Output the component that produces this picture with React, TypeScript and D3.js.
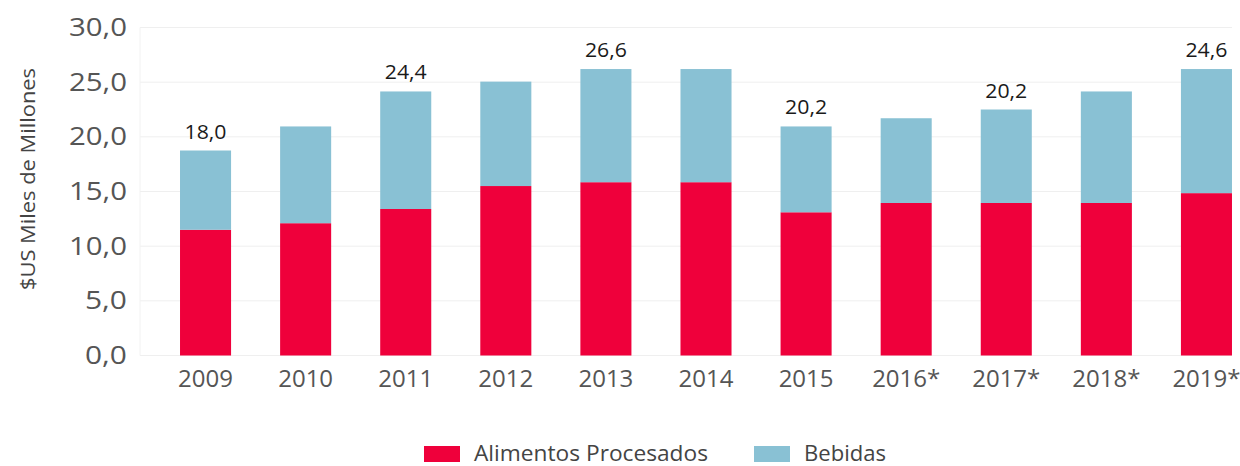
import React from "react";
import * as d3 from "d3";

const years = ["2009", "2010", "2011", "2012", "2013", "2014", "2015", "2016*", "2017*", "2018*", "2019*"];
const alimentos = [11.5, 12.1, 13.4, 15.5, 15.85, 15.85, 13.1, 13.95, 13.95, 13.95, 14.85];
const bebidas = [7.25, 8.85, 10.75, 9.55, 10.35, 10.35, 7.85, 7.75, 8.55, 10.2, 11.35];
const totalLabels = ["18,0", "", "24,4", "", "26,6", "", "20,2", "", "20,2", "", "24,6"];
const yTicks = [0, 5, 10, 15, 20, 25, 30];
const seriesNames = ["Alimentos Procesados", "Bebidas"];
const seriesColors = ["#EF003B", "#89C1D4"];

const W = 1240;
const H = 466;
const FONT = "'Open Sans', 'Noto Sans', sans-serif";

export default function App() {
  const x = d3
    .scaleBand<string>()
    .domain(years)
    .range([140, 1240])
    .paddingInner(0.49)
    .paddingOuter(0.24)
    .align(0.833);
  const y = d3.scaleLinear().domain([0, 30]).range([355.5, 27.5]);

  const rows = years.map((yr, i) => ({ year: yr, a: alimentos[i], b: bebidas[i] }));
  const stack = d3.stack<any>().keys(["a", "b"]);
  const layers = stack(rows);
  const fmt = (v: number) => d3.format(".1f")(v).replace(".", ",");

  return (
    <svg width={W} height={H} style={{ position: "absolute", left: 0, top: 0, background: "#fff" }}>
      {yTicks.map((t) => (
        <line key={"g" + t} x1={140} x2={1232} y1={y(t)} y2={y(t)} stroke="#EFEFEF" strokeWidth={1} />
      ))}
      <line x1={140} x2={140} y1={y(30)} y2={y(0)} stroke="#F2F2F2" strokeWidth={1} />
      {yTicks.map((t) => (
        <text
          key={"t" + t}
          x={127}
          y={y(t)}
          dy="0.33em"
          textAnchor="end"
          fontFamily={FONT}
          fontSize={25.5}
          textLength={t < 10 ? 42 : 58}
          lengthAdjust="spacingAndGlyphs"
          fill="#555"
        >
          {fmt(t)}
        </text>
      ))}
      {layers.map((layer, li) => (
        <g key={"l" + li} fill={seriesColors[li]}>
          {layer.map((d, i) => (
            <rect
              key={i}
              x={x(years[i])}
              width={x.bandwidth()}
              y={y(d[1])}
              height={y(d[0]) - y(d[1])}
            />
          ))}
        </g>
      ))}
      {years.map((yr, i) =>
        totalLabels[i] ? (
          <text
            key={"v" + i}
            x={(x(yr) as number) + x.bandwidth() / 2}
            y={y(alimentos[i] + bebidas[i]) - 12}
            textAnchor="middle"
            fontFamily={FONT}
            fontSize={20}
            textLength={42}
            lengthAdjust="spacingAndGlyphs"
            fill="#1a1a1a"
          >
            {totalLabels[i]}
          </text>
        ) : null
      )}
      {years.map((yr) => (
        <text
          key={"x" + yr}
          x={(x(yr) as number) + x.bandwidth() / 2}
          y={387}
          textAnchor="middle"
          fontFamily={FONT}
          fontSize={24}
          fill="#555"
        >
          {yr}
        </text>
      ))}
      <text
        transform="translate(35,179) rotate(-90)"
        textAnchor="middle"
        fontFamily={FONT}
        fontSize={20}
        textLength={222}
        lengthAdjust="spacingAndGlyphs"
        fill="#444"
      >
        $US Miles de Millones
      </text>
      {seriesNames.map((name, i) => {
        const lx = i === 0 ? 424 : 754;
        return (
          <g key={"lg" + i}>
            <rect x={lx} y={446} width={36} height={16} fill={seriesColors[i]} />
            <text
              x={lx + 50}
              y={461}
              fontFamily={FONT}
              fontSize={21}
              textLength={i === 0 ? 234 : 82}
              lengthAdjust="spacingAndGlyphs"
              fill="#444"
            >
              {name}
            </text>
          </g>
        );
      })}
    </svg>
  );
}
